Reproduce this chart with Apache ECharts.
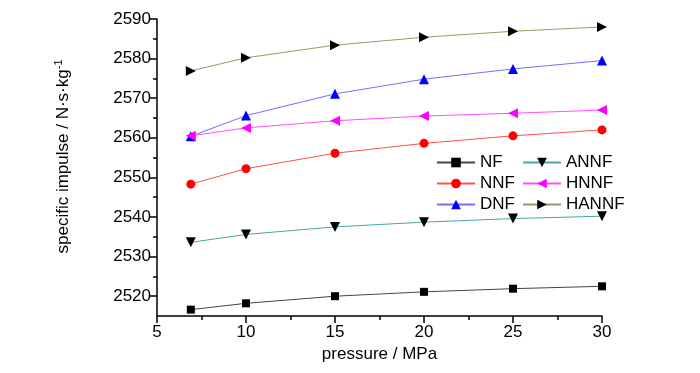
<!DOCTYPE html>
<html><head><meta charset="utf-8">
<script src="https://cdn.jsdelivr.net/npm/echarts@6/dist/echarts.min.js"></script>
<style>html,body{margin:0;padding:0;background:#fff}#c{width:700px;height:373px}</style>
</head><body><div id="c"></div>
<script>
const pressure = [6.9, 10, 15, 20, 25, 30];
const NF    = [2516.6, 2518.2, 2520.0, 2521.1, 2521.9, 2522.5];
const NNF   = [2548.3, 2552.2, 2556.1, 2558.6, 2560.5, 2562.0];
const DNF   = [2560.4, 2565.6, 2571.1, 2574.8, 2577.4, 2579.5];
const ANNF  = [2533.6, 2535.6, 2537.5, 2538.7, 2539.6, 2540.2];
const HNNF  = [2560.5, 2562.5, 2564.3, 2565.5, 2566.2, 2567.0];
const HANNF = [2576.9, 2580.2, 2583.4, 2585.4, 2586.9, 2588.0];
const yMajor = [2520, 2530, 2540, 2550, 2560, 2570, 2580, 2590];
const yMinor = [2525, 2535, 2545, 2555, 2565, 2575, 2585];

const FONT = 'Liberation Sans';
const pairs = arr => pressure.map((p, i) => [p, arr[i]]);
function ser(name, data, lineColor, markColor, symbol, size, rot) {
  return {
    name, type: 'line', data: pairs(data), symbol, symbolSize: size, symbolRotate: rot || 0,
    lineStyle: { color: lineColor, width: 1 },
    itemStyle: { color: markColor },
    emphasis: { disabled: true }, animation: false, z: 3
  };
}
const chart = echarts.init(document.getElementById('c'));
const baseY = { type: 'value', min: 2515, max: 2590, position: 'left', splitLine: { show: false } };
chart.setOption({
  animation: false,
  grid: { left: 157, right: 98, top: 19, bottom: 57 },
  legend: [
    { data: ['NF', 'NNF', 'DNF'], orient: 'vertical', left: 431, top: 147, itemWidth: 38, itemHeight: 12, itemGap: 0,
      textStyle: { fontFamily: FONT, fontSize: 17, color: '#000', lineHeight: 21 } },
    { data: ['ANNF', 'HNNF', 'HANNF'], orient: 'vertical', left: 517, top: 147, itemWidth: 38, itemHeight: 12, itemGap: 0,
      textStyle: { fontFamily: FONT, fontSize: 17, color: '#000', lineHeight: 21 } }
  ],
  xAxis: {
    type: 'value', min: 5, max: 30, interval: 5,
    name: 'pressure / MPa', nameLocation: 'middle', nameGap: 30,
    nameTextStyle: { fontFamily: FONT, fontSize: 17, color: '#000' },
    axisLine: { lineStyle: { color: '#000', width: 1.5 } },
    axisTick: { length: 7, lineStyle: { color: '#000', width: 1.5 } },
    minorTick: { show: true, splitNumber: 2, length: 4, lineStyle: { color: '#000', width: 1.5 } },
    axisLabel: { fontFamily: FONT, fontSize: 17, color: '#000', margin: 8 },
    splitLine: { show: false }
  },
  yAxis: [
    Object.assign({}, baseY, {
      name: '{a|specific impulse / N·s·kg}{s|-1}', nameLocation: 'middle', nameGap: 83, nameRotate: 90,
      nameTextStyle: { fontFamily: FONT, fontSize: 17, color: '#000', padding: [0, 0, 0, 22],
        rich: { a: { fontFamily: FONT, fontSize: 17, color: '#000' },
                s: { fontFamily: FONT, fontSize: 11, color: '#000', verticalAlign: 'top', padding: [0, 0, 10, 0] } } },
      axisLine: { show: true, lineStyle: { color: '#000', width: 1.5 } },
      axisTick: { show: true, length: 7, customValues: yMajor, lineStyle: { color: '#000', width: 1.5 } },
      axisLabel: { customValues: yMajor, fontFamily: FONT, fontSize: 17, color: '#000', margin: 6,
        formatter: v => String(v) }
    }),
    Object.assign({}, baseY, {
      axisLine: { show: false },
      axisTick: { show: true, length: 4, customValues: yMinor, lineStyle: { color: '#000', width: 1.5 } },
      axisLabel: { show: false }
    })
  ],
  series: [
    ser('NF', NF, '#444444', '#000000', 'rect', 8),
    ser('NNF', NNF, '#ff5050', '#ff0000', 'circle', 9),
    ser('DNF', DNF, '#7070ff', '#0000ff', 'triangle', 10),
    ser('ANNF', ANNF, '#4aa5a5', '#000000', 'triangle', 10, 180),
    ser('HNNF', HNNF, '#ff50ff', '#ff00ff', 'triangle', 10, 90),
    ser('HANNF', HANNF, '#9a9a60', '#000000', 'triangle', 10, -90)
  ]
});
</script></body></html>
